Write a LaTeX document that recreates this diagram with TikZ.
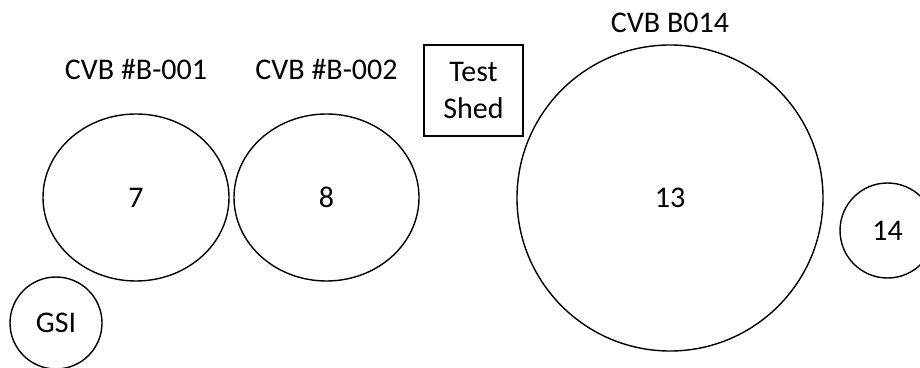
\documentclass[tikz,border=0pt]{standalone}
\usepackage{fontspec}
\setmainfont{Carlito}
\usepackage{tikz}
\usetikzlibrary{shapes.geometric}
\tikzstyle{pond} = [ellipse, draw, line width=1.4pt, inner sep=0pt, minimum width=186pt, minimum height=167pt]
\tikzstyle{well} = [circle, draw, line width=1.4pt, inner sep=0pt]
\tikzstyle{shed} = [rectangle, draw, line width=1.3pt, align=center, minimum width=99pt, minimum height=91pt]
\tikzstyle{tag} = [inner sep=0pt]

\begin{document}
\begin{tikzpicture}[x=1pt, y=1pt, font=\fontsize{30}{37}\selectfont]
			\useasboundingbox (0,0) rectangle (920,367);
			\node [pond] (cvb7) at (136,169.5) {7};
			\node [pond, minimum width=185pt] (cvb8) at (326.5,169.5) {8};
			\node [well, minimum size=306pt] (cvb13) at (670,169) {13};
			\node [well, minimum size=95pt] (well14) at (887.5,136.5) {14};
			\node [well, minimum size=92pt] (gsi) at (56,44) {GSI};
			\node [shed] (testshed) at (473.5,276.5) {Test\\Shed};
			\node [tag, above of=cvb7, node distance=128.5pt] (cvb7label) {CVB \#B-001};
			\node [tag, above of=cvb8, node distance=128.5pt] (cvb8label) {CVB \#B-002};
			\node [tag, above of=cvb13, node distance=175pt] (cvb13label) {CVB B014};
		\end{tikzpicture}
\end{document}
